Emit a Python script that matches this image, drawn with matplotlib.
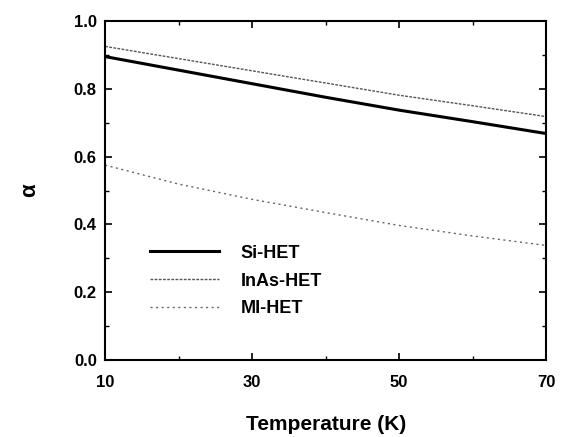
import numpy as np
import matplotlib
matplotlib.use("Agg")
import matplotlib.pyplot as plt
from matplotlib.ticker import FixedLocator, MultipleLocator

plt.rcParams['font.family'] = ['Liberation Sans', 'DejaVu Sans']
plt.rcParams['font.weight'] = 'bold'
plt.rcParams['axes.labelweight'] = 'bold'

# data
temp = [10, 20, 30, 40, 50, 60, 70]
si_het = [0.895, 0.855, 0.815, 0.775, 0.737, 0.703, 0.668]
inas_het = [0.925, 0.889, 0.853, 0.817, 0.781, 0.750, 0.718]
mi_het = [0.575, 0.519, 0.474, 0.435, 0.397, 0.366, 0.338]
xticks = [10, 30, 50, 70]
xminor = [20, 40, 60]
yticks = [0.0, 0.2, 0.4, 0.6, 0.8, 1.0]

fig = plt.figure(figsize=(5.62, 4.37), dpi=100)
ax = fig.add_axes([0.187, 0.176, 0.785, 0.776])

ax.plot(temp, si_het, color='black', lw=2.2, label='Si-HET')
ax.plot(temp, inas_het, color='#555555', lw=1.0, ls=(0, (2, 1)), label='InAs-HET')
ax.plot(temp, mi_het, color='#666666', lw=1.0, ls=(0, (1.5, 2.5)), label='MI-HET')

ax.set_xlim(10, 70)
ax.set_ylim(0, 1.0)
ax.xaxis.set_major_locator(FixedLocator(xticks))
ax.xaxis.set_minor_locator(FixedLocator(xminor))
ax.yaxis.set_minor_locator(MultipleLocator(0.1))
ax.set_yticks(yticks)
ax.set_yticklabels(['%.1f' % v for v in yticks])
ax.tick_params(which='both', direction='in', top=True, right=True, labelsize=12)
ax.tick_params(axis='x', which='major', pad=11)
ax.tick_params(axis='y', which='major', pad=6)
ax.tick_params(which='major', length=5, width=1.2)
ax.tick_params(which='minor', length=3, width=1)
for s in ax.spines.values():
    s.set_linewidth(1.5)

ax.set_xlabel('Temperature (K)', fontsize=15, labelpad=18)
ax.set_ylabel('α', fontsize=16, labelpad=24)

ax.legend(loc='upper left', bbox_to_anchor=(0.102, 0.34), frameon=False,
          fontsize=13, borderpad=0, borderaxespad=0,
          handlelength=3.8, handletextpad=1.2, labelspacing=0.6)

fig.savefig('out.png', dpi=100)
